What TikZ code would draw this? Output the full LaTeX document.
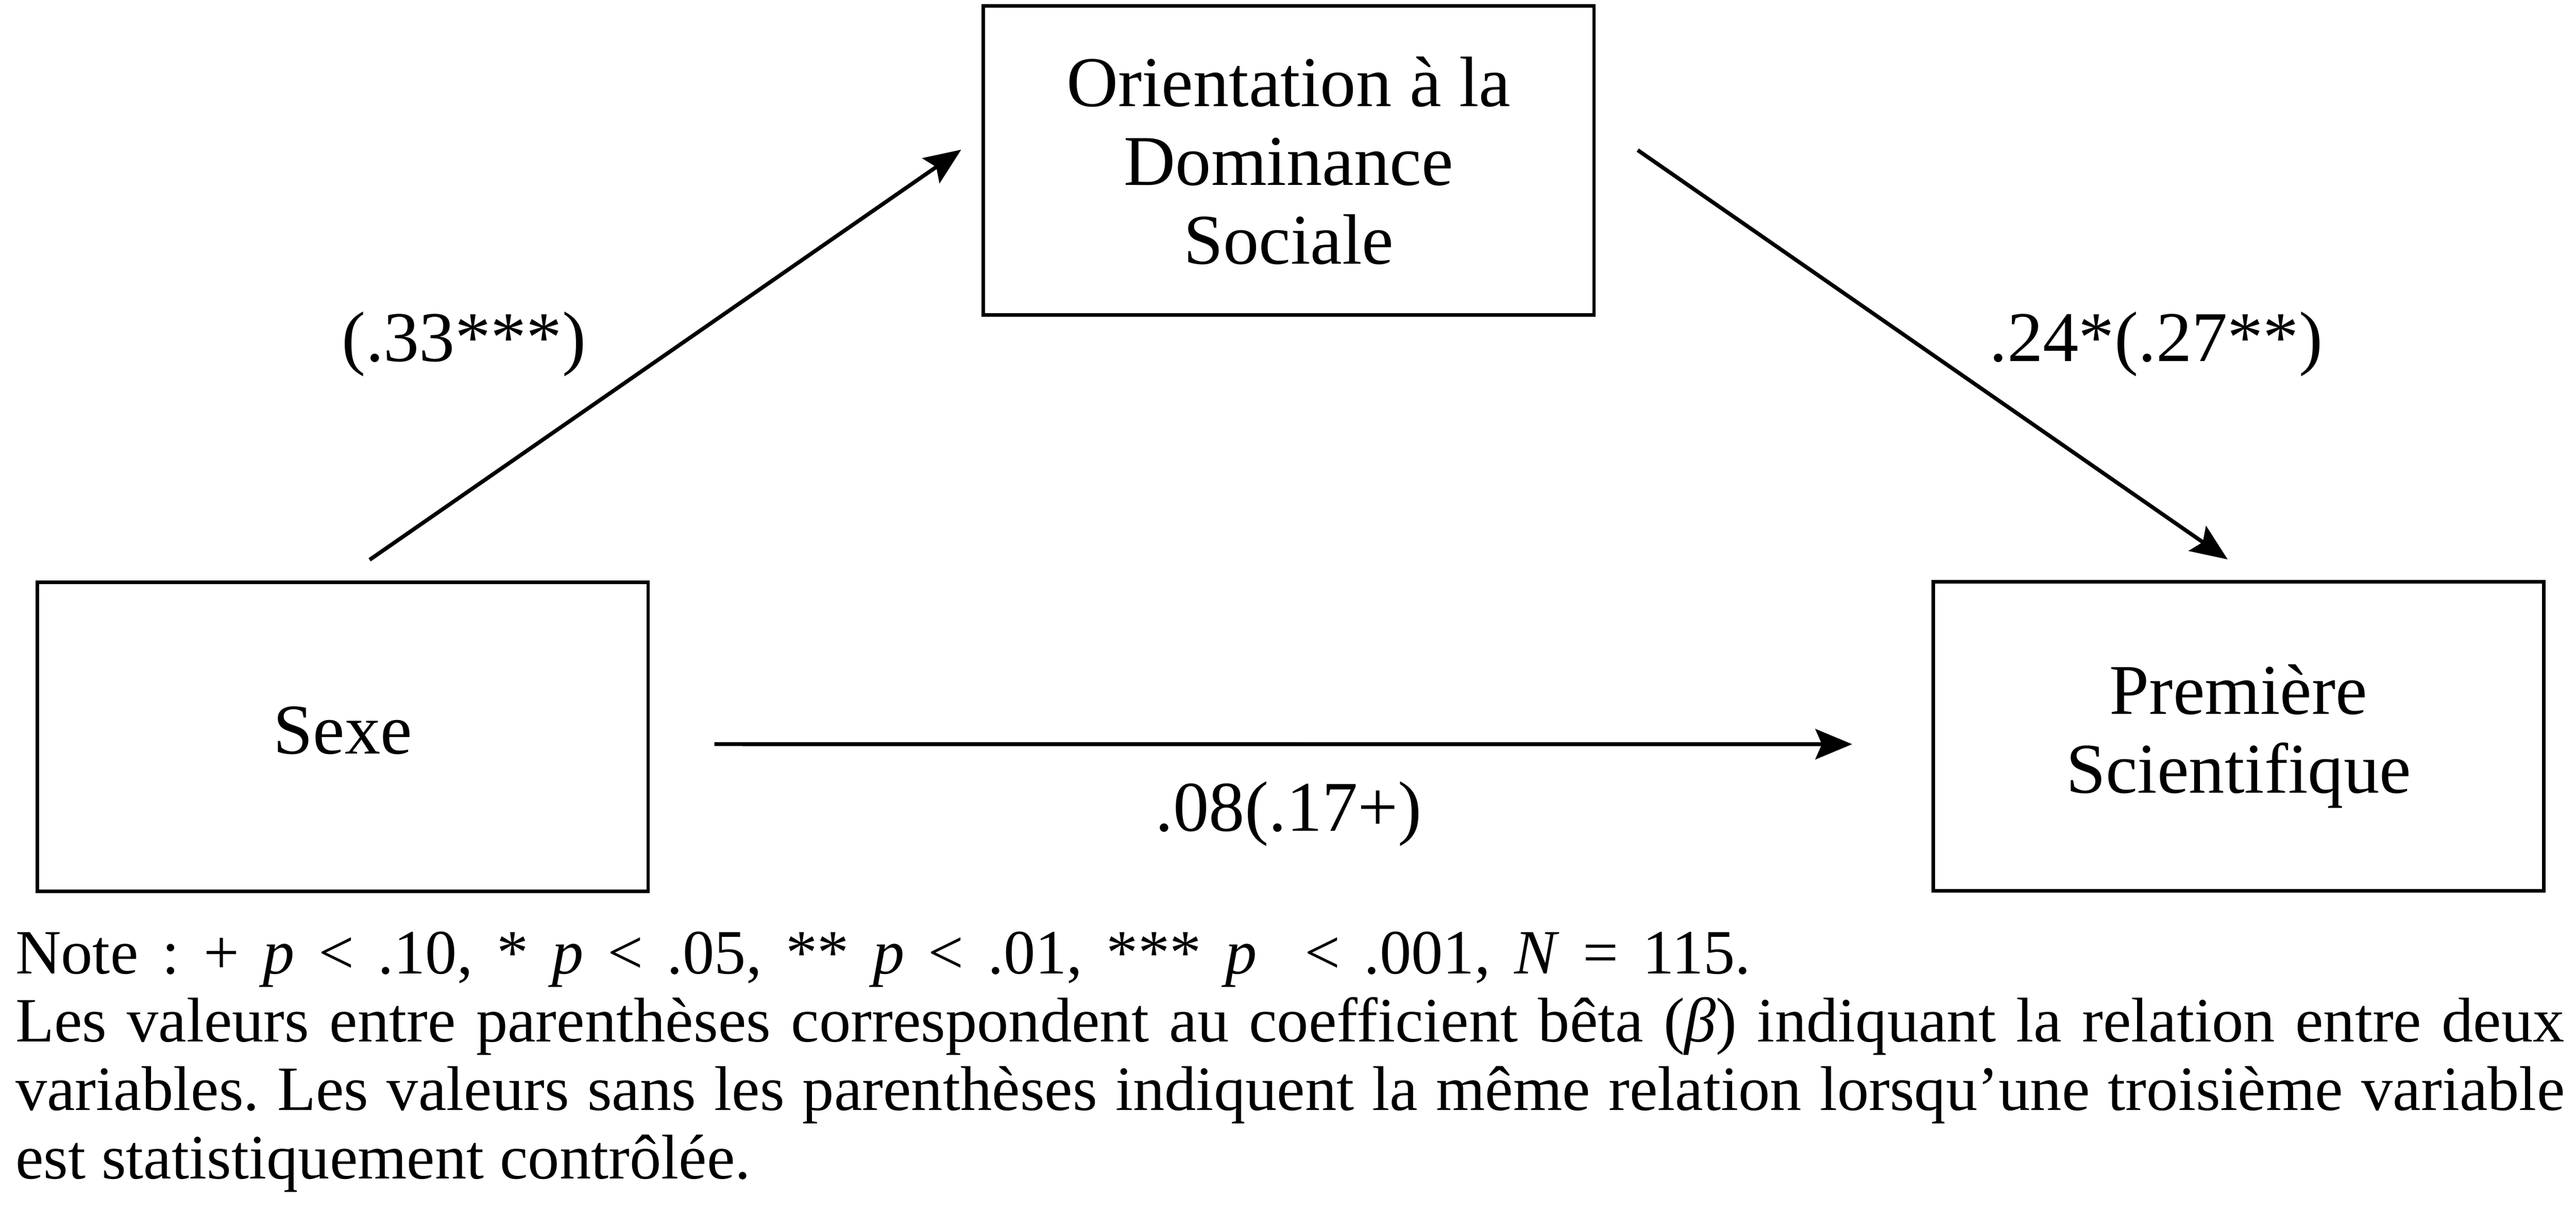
\documentclass[tikz,border=0pt]{standalone}
\usepackage{fontspec}
\setmainfont{Liberation Serif}
\usetikzlibrary{arrows.meta}
\frenchspacing

\begin{document}
\begin{tikzpicture}[rect/.style={draw, line width=0.8pt, minimum width=4.96cm, minimum height=2.51cm, align=center, font=\fontsize{16.5}{18.2}\selectfont},
    coef/.style={font=\fontsize{16.5}{18.2}\selectfont},
    fleche/.style={-{Stealth[length=8.5pt, width=7pt, inset=1.5pt]}, line width=0.9pt}]
    \useasboundingbox (0, 0) rectangle (20.92, -9.85);
    \node at (10.465, -1.304) [rect] (ods) {Orientation à la\\Dominance\\Sociale};
    \node at (2.784, -5.985) [rect] (sexe) {\raisebox{3pt}{Sexe}};
    \node at (18.179, -5.982) [rect] (prem) {Première\\Scientifique};

    %coefficients
    \node at (3.768, -2.794) [coef] (c_1) {(.33***)};
    \node at (17.51, -2.794) [coef] (c_2) {.24*(.27**)};
    \node at (10.466, -6.611) [coef] (c_3) {.08(.17+)};

    %paths between variables
    \draw [fleche] ([xshift=6.2pt, yshift=4.8pt]sexe.north) -- ([xshift=-4.7pt, yshift=2.5pt]ods.west);
    \draw [fleche] ([xshift=9.7pt, yshift=2.4pt]ods.east) -- ([xshift=-2.5pt, yshift=4.8pt]prem.north);
    \draw [fleche] ([xshift=14.9pt, yshift=-1.7pt]sexe.east) -- ([xshift=-18.3pt, yshift=-1.8pt]prem.west);

    %note
    \node at (0.119, -7.56) [anchor=north west, inner sep=0pt, text width=589pt, align=justify, font=\fontsize{14.6}{15.8}\selectfont] (note) {\makebox[401pt][s]{Note : + \textit{p} < .10, * \textit{p} < .05, ** \textit{p} < .01, *** \textit{p}\ \ < .001, \textit{N} = 115.}\\
    Les valeurs entre parenthèses correspondent au coefficient bêta (\textit{β}) indiquant la relation entre deux\linebreak
    variables. Les valeurs sans les parenthèses indiquent la même relation lorsqu’une troisième variable\linebreak
    est statistiquement contrôlée.};
\end{tikzpicture}
\end{document}
